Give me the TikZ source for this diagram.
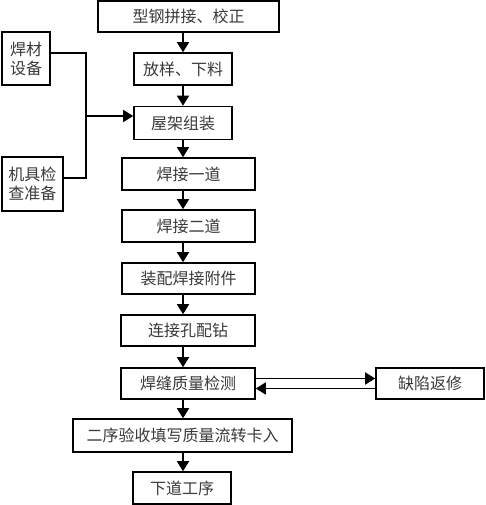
\documentclass[tikz,border=0pt]{standalone}
\usepackage{fontspec}
\usepackage{xcolor}
\usepackage{tikz}
\usetikzlibrary{arrows.meta,positioning,calc}
\newfontfamily\cjk{Noto Sans CJK SC}
\definecolor{cInk}{HTML}{000000}
\definecolor{cText}{HTML}{3A3A3A}
\tikzset{
  pbox/.style={draw=cInk,fill=white,line width=1.6pt,align=center,inner sep=0pt,text=cText,
    font=\cjk\fontsize{16}{19}\selectfont,minimum height=#1},
  pbox/.default=32pt,
  link/.style={line width=1.5pt,color=cInk},
  arr/.style={link,-{Triangle[length=10pt,width=12pt]}},
}

\begin{document}
\begin{tikzpicture}[x=1pt,y=-1pt]
    \useasboundingbox (0,0) rectangle (485,505);
    \coordinate (spine) at (183,0);
    % main line
    \node[pbox=31pt,minimum width=181pt] (splice) at (188.5,16.5) {型钢拼接、校正};
    \node[pbox,minimum width=98pt]  (layout) at (183,69)    {放样、下料};
    \node[pbox=33pt,minimum width=98pt]  (truss)  at (183,123)   {屋架组装};
    \node[pbox,minimum width=133pt] (weldA)  at (188.5,174) {焊接一道};
    \node[pbox,minimum width=133pt] (weldB)  at (188.5,226) {焊接二道};
    \node[pbox=31pt,minimum width=133pt] (fitting) at (188.5,278.5) {装配焊接附件};
    \node[pbox=31pt,minimum width=134pt] (drill)  at (188,330.5) {连接孔配钻};
    \node[pbox=31pt,minimum width=134pt] (inspect) at (188,383.5) {焊缝质量检测};
    \node[pbox=33pt,minimum width=219pt] (accept) at (182.5,435.5) {二序验收填写质量流转卡入};
    \node[pbox,minimum width=98pt]  (next)   at (182,488)   {下道工序};
    % side boxes
    \node[pbox=31pt,minimum width=108pt] (repair) at (430,383.5) {缺陷返修};
    \node[pbox=53pt,minimum width=48pt,text width=40pt] (material) at (26,58.5) {焊材\\设备};
    \node[pbox=54pt,minimum width=61pt,text width=56pt] (tools) at (32.5,184) {机具检\\查准备};
    % arrows down
    \foreach \a/\b in {splice/layout,layout/truss,truss/weldA,weldA/weldB,weldB/fitting,fitting/drill,drill/inspect,inspect/accept,accept/next}
      \draw[arr] (\a.south -| spine) -- (\b.north -| spine);
    % feeders
    \coordinate (bus) at (86,116);
    \draw[link] ([yshift=5.5pt]material.east) -| (bus) |- ([yshift=6pt]tools.east);
    \draw[arr] (bus) -- (bus -| truss.west);
    % repair loop
    \draw[arr] ([yshift=5pt]inspect.east) -- ([yshift=5pt]repair.west);
    \draw[arr] ([yshift=-5pt]repair.west) -- ([yshift=-5pt]inspect.east);
\end{tikzpicture}
\end{document}
